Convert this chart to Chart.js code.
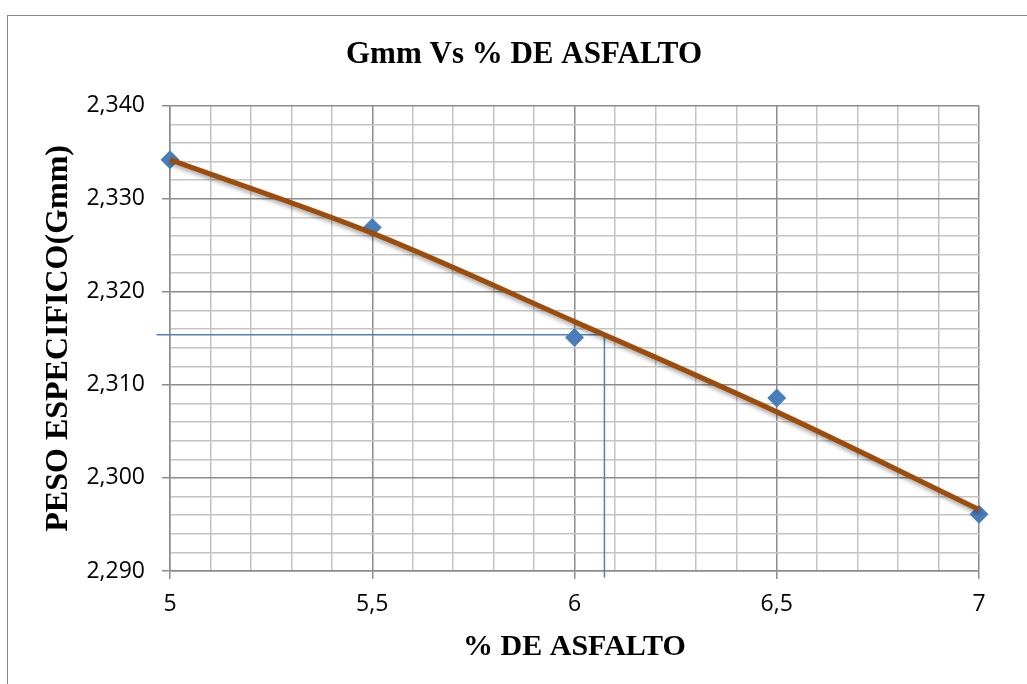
<!DOCTYPE html>
<html lang="es">
<head>
<meta charset="utf-8">
<title>Gmm Vs % DE ASFALTO</title>
<script src="https://cdn.jsdelivr.net/npm/chart.js@4.4.1/dist/chart.umd.min.js"></script>
<style>
  html, body { margin: 0; padding: 0; background: #fff; overflow: hidden; }
  #marco {
    position: absolute; left: 7px; top: 15px;
    width: 1032px; height: 668px;
    border: 1px solid #8a8a8a;
  }
</style>
</head>
<body>
<div id="marco"><canvas id="myChart"></canvas></div>
<script>
// Datos

const pctAsfalto = [5, 5.5, 6, 6.5, 7];
const gmm = [2.3342, 2.3269, 2.3151, 2.3086, 2.2961];
const gmmTendencia = [2.3342, 2.3263, 2.3168, 2.3071, 2.2966];

// lectura del optimo sobre la curva
const lecturaX = [4.967, 6.074, 6.074];
const lecturaY = [2.3154, 2.3154, 2.2893];

const ticksX = [5, 5.5, 6, 6.5, 7];
const ticksY = [2.290, 2.300, 2.310, 2.320, 2.330, 2.340];

// Funciones auxiliares

const esMayor = (lista, v) => lista.some(m => Math.abs(m - v) < 1e-6);
const coma = (v, dec) => v.toFixed(dec).replace('.', ',');
const puntos = (xs, ys) => xs.map((x, i) => ({ x: x, y: ys[i] }));

const gris = '#8c8c8c';
const grisClaro = '#c4c4c4';

// sombra de la linea de tendencia
const sombra = {
  id: 'sombra',
  beforeDatasetDraw(chart, args) {
    if (args.index !== 0) return;
    const ctx = chart.ctx;
    ctx.save();
    ctx.shadowColor = 'rgba(0,0,0,0.35)';
    ctx.shadowBlur = 4;
    ctx.shadowOffsetX = 1;
    ctx.shadowOffsetY = 3;
  },
  afterDatasetDraw(chart, args) {
    if (args.index !== 0) return;
    chart.ctx.restore();
  }
};

const fuenteTick = { family: '"Open Sans", sans-serif', size: 23 };

const ctx = document.getElementById('myChart').getContext('2d');
const grafico = new Chart(ctx, {
  type: 'scatter',
  data: {
    datasets: [
      {
        label: 'Tendencia',
        data: puntos(pctAsfalto, gmmTendencia),
        showLine: true,
        borderColor: '#9c4d0c',
        borderWidth: 5,
        pointRadius: 0,
        cubicInterpolationMode: 'monotone',
        clip: false,
        order: 0
      },
      {
        label: 'Gmm',
        data: puntos(pctAsfalto, gmm),
        showLine: false,
        pointStyle: 'rectRot',
        pointRadius: 9.5,
        pointBackgroundColor: '#4a7ebb',
        pointBorderColor: '#4a7ebb',
        pointBorderWidth: 0,
        clip: false,
        order: 1
      },
      {
        label: 'Lectura',
        data: puntos(lecturaX, lecturaY),
        showLine: true,
        borderColor: '#4f81bd',
        borderWidth: 1.5,
        pointRadius: 0,
        tension: 0,
        clip: false,
        order: 2
      }
    ]
  },
  options: {
    responsive: true,
    maintainAspectRatio: false,
    animation: false,
    layout: { padding: 0 },
    plugins: {
      legend: { display: false },
      tooltip: { enabled: false },
      title: {
        display: true,
        text: 'Gmm Vs % DE ASFALTO',
        color: '#000',
        font: { family: '"Liberation Serif", "Times New Roman", serif', size: 31, weight: 'bold' },
        padding: { top: 20, bottom: 32.5 }
      }
    },
    scales: {
      x: {
        type: 'linear',
        position: 'bottom',
        min: 5,
        max: 7,
        afterFit: s => { s.height = 113; },
        ticks: {
          stepSize: 0.1,
          autoSkip: false,
          maxRotation: 0,
          padding: 12,
          color: '#000',
          font: fuenteTick,
          callback: v => esMayor(ticksX, v) ? String(Math.round(v * 10) / 10).replace('.', ',') : ''
        },
        grid: {
          lineWidth: 1.5,
          tickLength: 8,
          color: c => esMayor(ticksX, c.tick.value) ? gris : grisClaro,
          tickColor: c => esMayor(ticksX, c.tick.value) ? gris : 'rgba(0,0,0,0)'
        },
        border: { display: true, color: gris, width: 1.5 },
        title: {
          display: true,
          text: '% DE ASFALTO',
          color: '#000',
          font: { family: '"Liberation Serif", "Times New Roman", serif', size: 30, weight: 'bold' },
          padding: { top: 0, bottom: 19 }
        }
      },
      y: {
        type: 'linear',
        position: 'left',
        min: 2.290,
        max: 2.340,
        afterFit: s => { s.width = 162; },
        ticks: {
          stepSize: 0.002,
          autoSkip: false,
          padding: 17,
          color: '#000',
          font: fuenteTick,
          callback: v => esMayor(ticksY, v) ? coma(v, 3) : ''
        },
        grid: {
          lineWidth: 1.5,
          tickLength: 8,
          color: c => esMayor(ticksY, c.tick.value) ? gris : grisClaro,
          tickColor: c => esMayor(ticksY, c.tick.value) ? gris : 'rgba(0,0,0,0)'
        },
        border: { display: true, color: gris, width: 1.5 },
        title: {
          display: true,
          text: 'PESO ESPECIFICO(Gmm)',
          color: '#000',
          font: { family: '"Liberation Serif", "Times New Roman", serif', size: 32, weight: 'bold' },
          padding: { top: 32, bottom: 0 }
        }
      },
      // margen derecho del area de trazado
      margen: {
        type: 'linear',
        position: 'right',
        display: true,
        afterFit: s => { s.width = 61; },
        ticks: { display: false },
        grid: { display: false, drawTicks: false },
        border: { display: false }
      }
    }
  },
  plugins: [sombra]
});
</script>
</body>
</html>
